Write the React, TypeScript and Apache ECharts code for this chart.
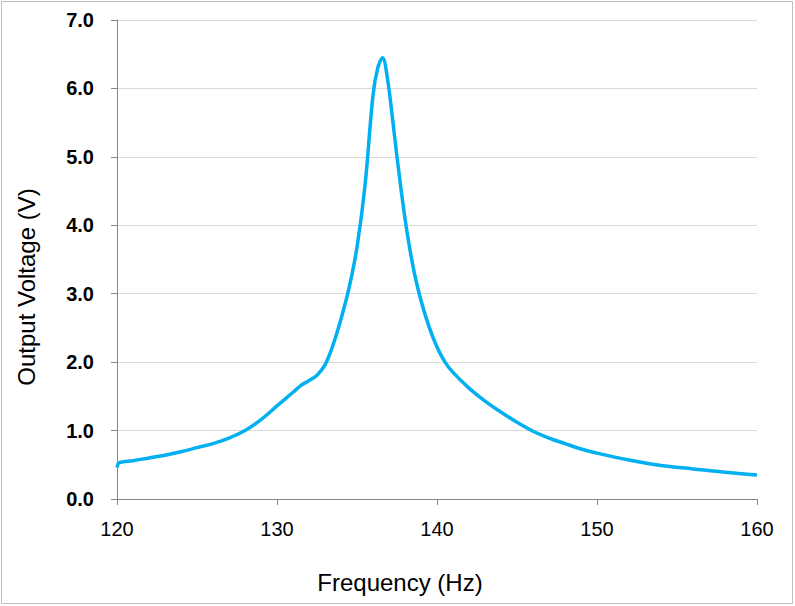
import React, { useEffect, useRef } from "react";
import * as echarts from "echarts";

const frequencyHz = [
  120, 120.15, 121, 122, 123, 124, 125, 126, 127, 128, 129, 130, 131, 131.5, 132, 132.5, 133,
  133.5, 134, 134.5, 135, 135.5, 136, 136.3, 136.6, 136.9, 137.2, 137.5, 138, 138.5, 139,
  139.5, 140, 140.5, 141, 142, 143, 144, 145, 146, 147, 148, 149, 150, 152, 154, 156, 158, 160,
];
const outputVoltage = [
  0.46, 0.53, 0.56, 0.6, 0.64, 0.69, 0.75, 0.81, 0.89, 1.0, 1.16, 1.36, 1.56, 1.66, 1.73, 1.81,
  1.96, 2.25, 2.63, 3.08, 3.68, 4.58, 5.9, 6.3, 6.45, 6.15, 5.6, 5.0, 4.1, 3.4, 2.9, 2.52, 2.22,
  2.0, 1.85, 1.62, 1.43, 1.27, 1.12, 0.99, 0.89, 0.81, 0.73, 0.67, 0.57, 0.49, 0.44, 0.39, 0.35,
];
const xTitle = "Frequency (Hz)";
const yTitle = "Output Voltage (V)";

const FONT = "'Liberation Sans', Arial, sans-serif";

export default function App() {
  const ref = useRef<HTMLDivElement>(null);

  useEffect(() => {
    if (!ref.current) return;
    const chart = echarts.init(ref.current, null, { renderer: "svg" });
    const data = frequencyHz.map((f, i) => [f, outputVoltage[i]]);
    chart.setOption({
      animation: false,
      backgroundColor: "#ffffff",
      grid: { left: 117, right: 38, top: 20, bottom: 107, containLabel: false },
      xAxis: {
        type: "value",
        min: 120,
        max: 160,
        interval: 10,
        axisLine: { show: true, lineStyle: { color: "#868686", width: 1 } },
        axisTick: { show: true, length: 6, lineStyle: { color: "#868686" } },
        axisLabel: {
          margin: 20,
          fontSize: 20,
          fontFamily: FONT,
          color: "#000000",
        },
        splitLine: { show: false },
      },
      yAxis: {
        type: "value",
        min: 0,
        max: 7,
        interval: 1,
        axisLine: { show: true, lineStyle: { color: "#868686", width: 1 } },
        axisTick: { show: true, length: 6, lineStyle: { color: "#868686" } },
        axisLabel: {
          margin: 23,
          fontSize: 20,
          fontWeight: "bold",
          fontFamily: FONT,
          color: "#000000",
          formatter: (v: number) => v.toFixed(1),
        },
        splitLine: { show: true, lineStyle: { color: "#d9d9d9", width: 1 } },
      },
      series: [
        {
          type: "line",
          data,
          showSymbol: false,
          symbol: "none",
          smooth: 0.35,
          lineStyle: { color: "#00b0f0", width: 3.5 },
        },
      ],
      graphic: [
        {
          type: "rect",
          shape: { x: 1.5, y: 1.5, width: 791, height: 602 },
          style: { fill: "none", stroke: "#c0c0c0", lineWidth: 1 },
          silent: true,
        },
        {
          type: "text",
          x: 400,
          y: 582,
          style: {
            text: xTitle,
            font: `24px ${FONT}`,
            fill: "#000000",
            textAlign: "center",
            textVerticalAlign: "middle",
          },
        },
        {
          type: "text",
          x: 26,
          y: 287,
          rotation: Math.PI / 2,
          style: {
            text: yTitle,
            font: `24px ${FONT}`,
            fill: "#000000",
            textAlign: "center",
            textVerticalAlign: "middle",
          },
        },
      ],
    });
    return () => chart.dispose();
  }, []);

  return (
    <div
      ref={ref}
      style={{ position: "absolute", left: 0, top: 0, width: 795, height: 606 }}
    />
  );
}
